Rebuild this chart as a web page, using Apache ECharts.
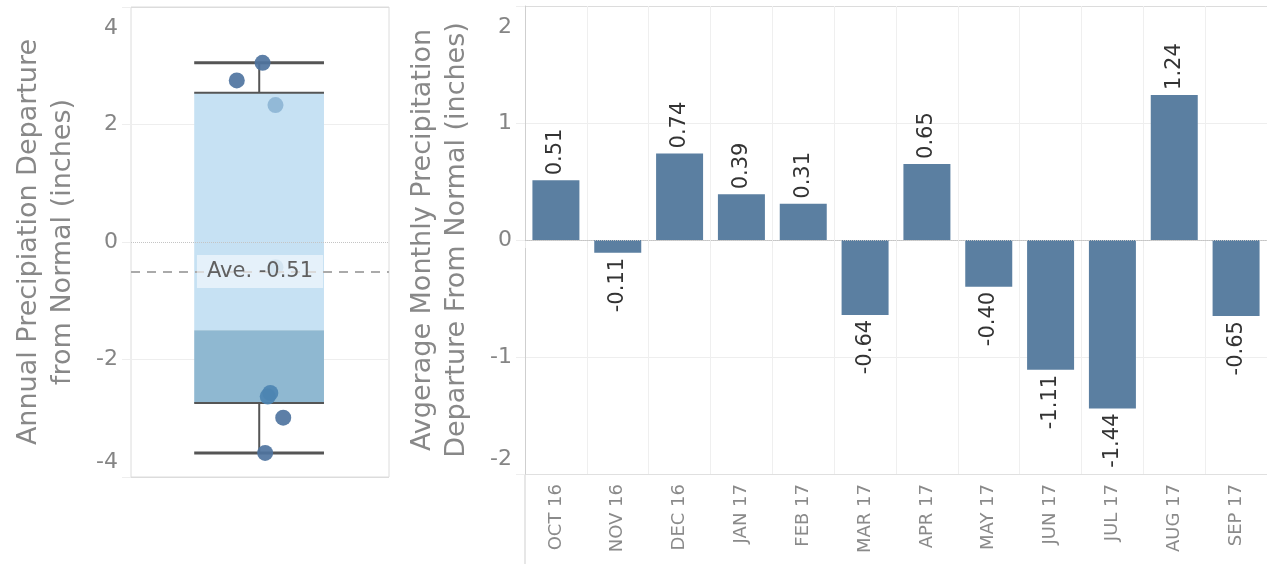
<!DOCTYPE html>
<html>
<head>
<meta charset="utf-8">
<title>Precipitation departure</title>
<script src="https://cdn.jsdelivr.net/npm/echarts@6/dist/echarts.min.js"></script>
<style>
  html, body { margin: 0; padding: 0; background: #fff; }
  #main { width: 1267px; height: 564px; }
</style>
</head>
<body>
<div id="main"></div>
<script>
// monthly departures (right panel)
var months = ['OCT 16', 'NOV 16', 'DEC 16', 'JAN 17', 'FEB 17', 'MAR 17',
              'APR 17', 'MAY 17', 'JUN 17', 'JUL 17', 'AUG 17', 'SEP 17'];
var monthlyDeparture = [0.51, -0.11, 0.74, 0.39, 0.31, -0.64, 0.65, -0.40, -1.11, -1.44, 1.24, -0.65];

// annual departures (left panel), jittered dots
var annualDeparture = [3.05, 2.75, 2.33, -0.43, -2.57, -2.63, -2.99, -3.59];
var annualJitter = [0.51, 0.41, 0.56, 0.56, 0.54, 0.53, 0.59, 0.52];
var annualShade = ['#4f74a0', '#4f74a0', '#8db5d5', '#9cc2df', '#4d84b2', '#4d84b2', '#4f74a0', '#4f74a0'];
// min, q1, median, q3, max as drawn
var boxStats = [-3.59, -2.74, -1.50, 2.54, 3.05];
var annualAverage = -0.51;

var leftTicks = [-4, -2, 0, 2, 4];
var rightTicks = [-2, -1, 0, 1, 2];

var FONT = '"DejaVu Sans", sans-serif';
var GREY = '#858585';

function edgeLabel(ticks) {
  return function (v) {
    if (v === ticks[ticks.length - 1]) return '{top|' + v + '}';
    if (v === ticks[0]) return '{bot|' + v + '}';
    return v;
  };
}
var edgeRich = {
  top: { padding: [42, 0, 0, 0], fontSize: 22, color: GREY, fontFamily: FONT },
  bot: { padding: [0, 0, 30, 0], fontSize: 22, color: GREY, fontFamily: FONT }
};

var chart = echarts.init(document.getElementById('main'));

var option = {
  animation: false,
  textStyle: { fontFamily: FONT },
  grid: [
    { left: 131, top: 7, width: 258, height: 470, show: true, borderColor: '#dcdcdc', borderWidth: 1 },
    { left: 525, top: 6, width: 742, height: 468 }
  ],
  xAxis: [
    { gridIndex: 0, type: 'value', min: 0, max: 1, show: false },
    {
      gridIndex: 1, type: 'category', data: months,
      axisLine: { lineStyle: { color: '#cfcfcf', width: 1 } },
      axisTick: { show: true, length: 8, lineStyle: { color: '#ececec' } },
      splitLine: { show: true, lineStyle: { color: '#efefef' } },
      axisLabel: { rotate: 90, fontSize: 18, color: '#8a8a8a', margin: 10, interval: 0, fontFamily: FONT }
    }
  ],
  yAxis: [
    {
      gridIndex: 0, type: 'value', min: leftTicks[0], max: leftTicks[leftTicks.length - 1], interval: 2,
      name: 'Annual Precipiation Departure\nfrom Normal (inches)',
      nameLocation: 'middle', nameGap: 51, nameRotate: 90,
      nameTextStyle: { fontSize: 27, color: '#888', lineHeight: 34, fontFamily: FONT },
      axisLine: { show: false },
      axisTick: { show: true, length: 9, lineStyle: { color: '#eeeeee' } },
      splitLine: { lineStyle: { color: ['#dcdcdc', '#eeeeee', 'rgba(0,0,0,0)', '#eeeeee', '#dcdcdc'] } },
      axisLabel: { fontSize: 22, color: GREY, margin: 13, formatter: edgeLabel(leftTicks), rich: edgeRich }
    },
    {
      gridIndex: 1, type: 'value', min: rightTicks[0], max: rightTicks[rightTicks.length - 1], interval: 1,
      name: 'Avgerage Monthly Precipitation\nDeparture From Normal (inches)',
      nameLocation: 'middle', nameGap: 51, nameRotate: 90,
      nameTextStyle: { fontSize: 27, color: '#888', lineHeight: 34, fontFamily: FONT },
      axisLine: { show: true, lineStyle: { color: '#cfcfcf' } },
      axisTick: { show: true, length: 9, lineStyle: { color: '#eeeeee' } },
      splitLine: { lineStyle: { color: ['#e0e0e0', '#eeeeee', 'rgba(0,0,0,0)', '#eeeeee', '#dcdcdc'] } },
      axisLabel: { fontSize: 22, color: GREY, margin: 13, formatter: edgeLabel(rightTicks), rich: edgeRich }
    }
  ],
  graphic: [
    // left axis line carried down through the month labels
    { type: 'line', shape: { x1: 525, y1: 474, x2: 525, y2: 564 }, style: { stroke: '#cfcfcf', lineWidth: 1 } }
  ],
  series: [
    {
      // box: light upper half, dark lower half, whiskers
      type: 'custom', xAxisIndex: 0, yAxisIndex: 0, z: 1, silent: true,
      data: [boxStats],
      renderItem: function (params, api) {
        var x0 = 0.245, x1 = 0.748, xm = 0.497;
        var pMin = api.coord([xm, api.value(0)]);
        var pQ1 = api.coord([x0, api.value(1)]);
        var pMed = api.coord([x1, api.value(2)]);
        var pQ3 = api.coord([x0, api.value(3)]);
        var pMax = api.coord([xm, api.value(4)]);
        var left = pQ1[0], right = pMed[0];
        var ln = { stroke: '#555', lineWidth: 2 };
        return {
          type: 'group',
          children: [
            { type: 'rect', shape: { x: left, y: pQ3[1], width: right - left, height: pMed[1] - pQ3[1] }, style: { fill: '#c6e1f3' } },
            { type: 'rect', shape: { x: left, y: pMed[1], width: right - left, height: pQ1[1] - pMed[1] }, style: { fill: '#8fb8d1' } },
            { type: 'line', shape: { x1: left, y1: pQ3[1], x2: right, y2: pQ3[1] }, style: ln },
            { type: 'line', shape: { x1: left, y1: pQ1[1], x2: right, y2: pQ1[1] }, style: ln },
            { type: 'line', shape: { x1: pMax[0], y1: pMax[1], x2: pMax[0], y2: pQ3[1] }, style: ln },
            { type: 'line', shape: { x1: pMin[0], y1: pQ1[1], x2: pMin[0], y2: pMin[1] }, style: ln },
            { type: 'line', shape: { x1: left, y1: pMax[1], x2: right, y2: pMax[1] }, style: { stroke: '#555', lineWidth: 3 } },
            { type: 'line', shape: { x1: left, y1: pMin[1], x2: right, y2: pMin[1] }, style: { stroke: '#555', lineWidth: 3 } }
          ]
        };
      }
    },
    {
      type: 'scatter', xAxisIndex: 0, yAxisIndex: 0, z: 3, symbolSize: 16,
      data: annualDeparture.map(function (v, i) {
        return { value: [annualJitter[i], v], itemStyle: { color: annualShade[i], opacity: 0.92 } };
      })
    },
    {
      // zero line and average reference
      type: 'scatter', xAxisIndex: 0, yAxisIndex: 0, z: 5, data: [],
      markLine: {
        silent: true, symbol: 'none',
        data: [
          { yAxis: 0, lineStyle: { type: 'dotted', color: '#c4c4c4', width: 1 }, label: { show: false } },
          {
            yAxis: annualAverage,
            lineStyle: { type: [9, 7], color: '#aaaaaa', width: 2 },
            label: {
              show: true, position: 'middle', formatter: 'Ave. ' + annualAverage.toFixed(2),
              fontSize: 21, color: '#606060', fontFamily: FONT, offset: [0, 21],
              backgroundColor: 'rgba(255,255,255,0.55)', padding: [6, 10, 6, 10]
            }
          }
        ]
      }
    },
    {
      type: 'bar', xAxisIndex: 1, yAxisIndex: 1, barWidth: '76%',
      itemStyle: { color: '#5b7fa1' },
      label: { show: true, rotate: 90, verticalAlign: 'middle', distance: 5, fontSize: 21, color: '#333',
               fontFamily: FONT,
               formatter: function (p) { return p.value.toFixed(2); } },
      data: monthlyDeparture.map(function (v) {
        return {
          value: v,
          label: v >= 0 ? { position: 'top', align: 'left' } : { position: 'bottom', align: 'right' }
        };
      }),
      markLine: {
        silent: true, symbol: 'none', label: { show: false },
        lineStyle: { type: 'dotted', color: '#c4c4c4', width: 1 },
        data: [{ yAxis: 0 }]
      }
    }
  ]
};

chart.setOption(option);
</script>
</body>
</html>
